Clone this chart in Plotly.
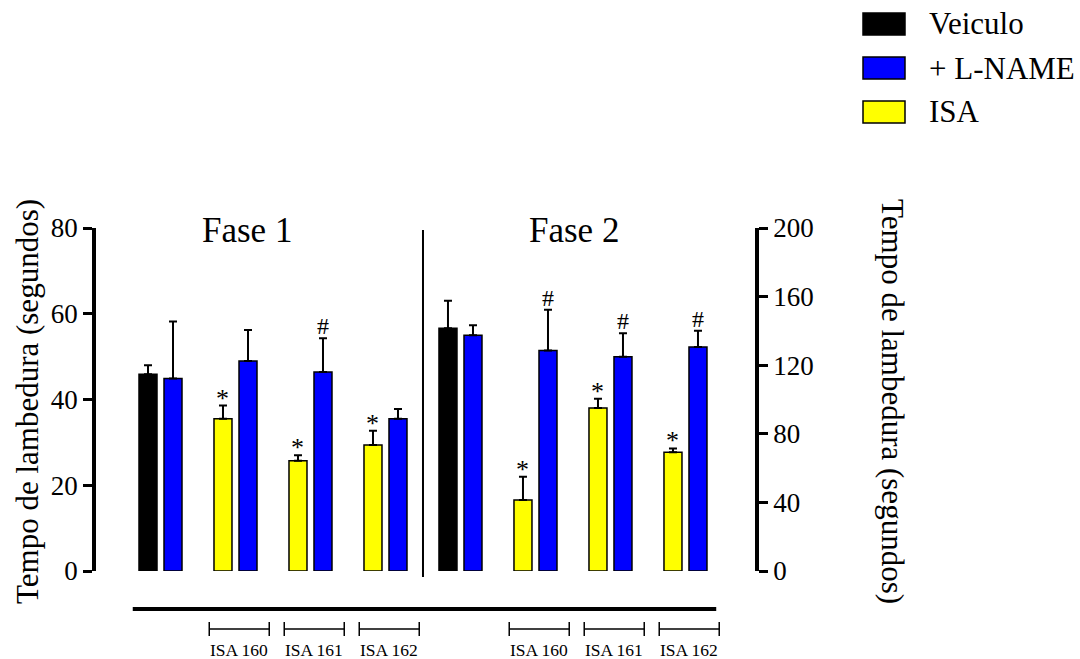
import plotly.graph_objects as go

# ---------------- data ----------------
groups = ["Veiculo", "ISA 160", "ISA 161", "ISA 162"]
left_kind = ["Veiculo", "ISA", "ISA", "ISA"]

fase1_left = [45.9, 35.5, 25.7, 29.4]
fase1_left_err = [2.1, 3.1, 1.3, 3.3]
fase1_lname = [44.9, 49.0, 46.4, 35.5]
fase1_lname_err = [13.3, 7.2, 7.9, 2.3]

fase2_left = [141.5, 41.4, 95.0, 69.2]
fase2_left_err = [16.1, 13.6, 5.5, 2.3]
fase2_lname = [137.4, 128.5, 125.0, 130.6]
fase2_lname_err = [5.9, 23.9, 13.6, 9.5]

fase1_star = [False, True, True, True]
fase1_hash = [False, False, True, False]
fase2_star = [False, True, True, True]
fase2_hash = [False, True, True, True]

series_names = ["Veiculo", "+ L-NAME", "ISA"]
colors = {"Veiculo": "#000000", "+ L-NAME": "#0000FF", "ISA": "#FFFF00"}

FONT = "Times New Roman, Liberation Serif, Times, serif"
W, H = 1080, 659
# plot area in page pixels
PX0, PX1, PY0, PY1 = 96, 755, 228, 571
L, R, T, B = PX0, (W - PX1), PY0, (H - PY1)
PW, PH = PX1 - PX0, PY1 - PY0

def pxx(px):
    return (px - PX0) / PW

def pxy(py):
    return (PY1 - py) / PH

OFF = 0.1667
BW = 0.24

fig = go.Figure()

def add_bars(xs, ys, errs, color, yaxis):
    fig.add_trace(go.Bar(
        x=xs, y=ys, width=BW, yaxis=yaxis,
        marker=dict(color=color, line=dict(color="black", width=1.5)),
        error_y=dict(type="data", array=errs, arrayminus=[0] * len(errs),
                     symmetric=False, color="black", thickness=2, width=4),
        showlegend=False,
    ))

phases = [
    (0, "y", fase1_left, fase1_left_err, fase1_lname, fase1_lname_err, fase1_star, fase1_hash),
    (4, "y2", fase2_left, fase2_left_err, fase2_lname, fase2_lname_err, fase2_star, fase2_hash),
]

def txt(x, y, text, size, xref="paper", yref="paper", xanchor="center",
        yanchor="middle", **kw):
    return dict(x=x, y=y, xref=xref, yref=yref, text=text, showarrow=False,
                xanchor=xanchor, yanchor=yanchor,
                font=dict(family=FONT, size=size, color="black"), **kw)

annotations = []
for start, ax, lv, le, bv, be, star, hsh in phases:
    for kind in ["Veiculo", "ISA"]:
        idx = [i for i, k in enumerate(left_kind) if k == kind]
        add_bars([start + i - OFF for i in idx], [lv[i] for i in idx],
                 [le[i] for i in idx], colors[kind], ax)
    add_bars([start + i + OFF for i in range(len(groups))], bv, be,
             colors["+ L-NAME"], ax)
    for i in range(len(groups)):
        if star[i]:
            annotations.append(txt(start + i - OFF, lv[i] + le[i], "*", 26,
                                   xref="x", yref=ax, yanchor="bottom", yshift=-9))
        if hsh[i]:
            annotations.append(txt(start + i + OFF, bv[i] + be[i], "#", 24,
                                   xref="x", yref=ax, yanchor="bottom", yshift=-3))

shapes = []
# divider between phases
shapes.append(dict(type="line", xref="x", yref="paper", x0=3.5, x1=3.5,
                   y0=pxy(577), y1=pxy(230), line=dict(color="black", width=2)))
# thick bottom line
shapes.append(dict(type="line", xref="x", yref="paper", x0=-0.37, x1=7.41,
                   y0=pxy(609), y1=pxy(609), line=dict(color="black", width=4)))
# brackets under ISA groups
for start in [0, 4]:
    for i in range(1, len(groups)):
        c = start + i + 0.05
        x0, x1 = c - 0.4, c + 0.4
        shapes.append(dict(type="line", xref="x", yref="paper", x0=x0, x1=x1,
                           y0=pxy(629), y1=pxy(629), line=dict(color="black", width=1.5)))
        for xx in (x0, x1):
            shapes.append(dict(type="line", xref="x", yref="paper", x0=xx, x1=xx,
                               y0=pxy(622), y1=pxy(636), line=dict(color="black", width=1.5)))
        annotations.append(txt(c, pxy(650), groups[i], 17.5, xref="x"))

# phase titles
annotations.append(txt(pxx(247), pxy(230), "Fase 1", 35))
annotations.append(txt(pxx(574), pxy(230), "Fase 2", 35))

# axis titles
ytitle = "Tempo de lambedura (segundos)"
annotations.append(txt(pxx(27), pxy(402), ytitle, 31, textangle=-90))
annotations.append(txt(pxx(893), pxy(401), ytitle, 31, textangle=90))

# legend (manual)
leg_y = [24, 68, 112]
for name, yc in zip(series_names, leg_y):
    shapes.append(dict(type="rect", xref="paper", yref="paper",
                       x0=pxx(863), x1=pxx(905), y0=pxy(yc - 11), y1=pxy(yc + 11),
                       fillcolor=colors[name], line=dict(color="black", width=1.5)))
    annotations.append(txt(pxx(927), pxy(yc), name, 31, xanchor="left"))

axis_style = dict(showline=True, linewidth=3.5, linecolor="black", ticks="outside",
                  ticklen=9, tickwidth=3, tickcolor="black", showgrid=False,
                  zeroline=False, tickfont=dict(family=FONT, size=27, color="black"))

fig.update_layout(
    width=W, height=H, autosize=False,
    margin=dict(l=L, r=R, t=T, b=B),
    plot_bgcolor="white", paper_bgcolor="white",
    font=dict(family=FONT, color="black"),
    barmode="overlay", showlegend=False,
    xaxis=dict(range=[-0.86, 7.927], visible=False),
    yaxis=dict(range=[0, 80], tickvals=[0, 20, 40, 60, 80], **axis_style),
    yaxis2=dict(range=[0, 200], tickvals=[0, 40, 80, 120, 160, 200], overlaying="y",
                side="right", **axis_style),
    shapes=shapes, annotations=annotations,
)

fig.write_html("out.html",
               config={"displayModeBar": False},
               post_script="document.body.style.margin='0px';"
                           "document.body.style.overflow='hidden';")
